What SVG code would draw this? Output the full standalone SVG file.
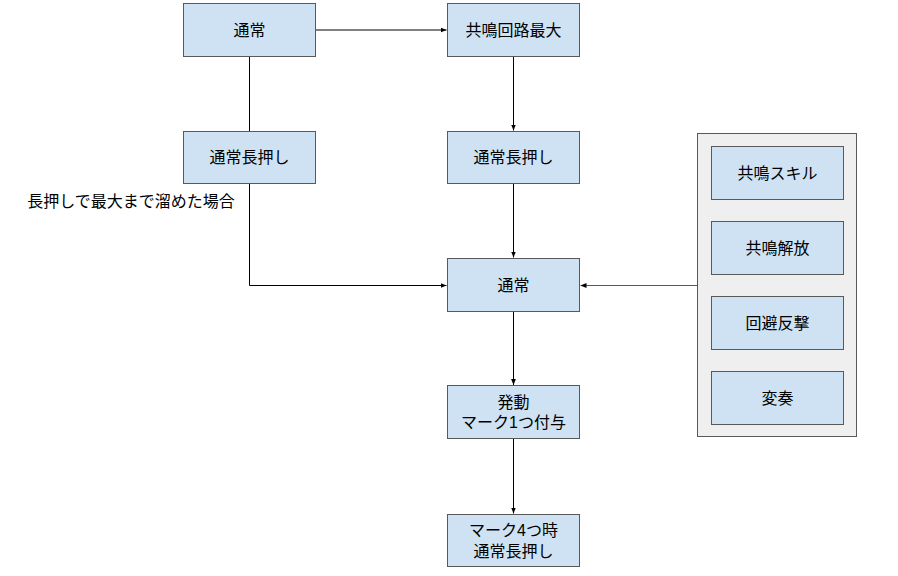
<svg xmlns="http://www.w3.org/2000/svg" width="898" height="576" viewBox="0 0 898 576">
<style>
.box{fill:#cfe2f3;stroke:#595959;stroke-width:1}
.panel{fill:#efefef;stroke:#595959;stroke-width:1}
.t{font-family:"Liberation Sans","Noto Sans CJK JP",sans-serif;font-size:16px;fill:#000;text-anchor:middle;dominant-baseline:central}
.c{fill:none;stroke:#000;stroke-width:1}
.g{fill:none;stroke:#595959;stroke-width:1}
</style>
<defs>
<marker id="a" viewBox="0 0 8 8" refX="8" refY="4" markerWidth="6" markerHeight="6" orient="auto" markerUnits="userSpaceOnUse">
<path d="M0,0.8 L8,4 L0,7.2 z" fill="#000"/>
</marker>
</defs>
<rect x="0" y="0" width="898" height="576" fill="#fff"/>
<g id="connectors">
<path class="c" d="M315.5,30 H446.5" marker-end="url(#a)"/>
<path class="c" d="M249.5,57 V131"/>
<path class="c" d="M249.5,183 V285.5 H446.5" marker-end="url(#a)"/>
<path class="c" d="M513.5,57 V130.5" marker-end="url(#a)"/>
<path class="c" d="M513.5,183 V257.5" marker-end="url(#a)"/>
<path class="c" d="M513.5,312 V385" marker-end="url(#a)"/>
<path class="c" d="M513.5,439 V513.5" marker-end="url(#a)"/>
<path class="g" d="M697,285.5 H580.5" marker-end="url(#a)"/>
<text class="t" x="131" y="201">長押しで最大まで溜めた場合</text>
</g>
<g id="n1"><rect class="box" x="183.5" y="3.5" width="132" height="53"/><text class="t" x="249.5" y="30">通常</text></g>
<g id="n2"><rect class="box" x="447.5" y="3.5" width="132" height="53"/><text class="t" x="513.5" y="30">共鳴回路最大</text></g>
<g id="n3"><rect class="box" x="183.5" y="131.5" width="132" height="52"/><text class="t" x="249.5" y="157.5">通常長押し</text></g>
<g id="n4"><rect class="box" x="447.5" y="131.5" width="132" height="52"/><text class="t" x="513.5" y="157.5">通常長押し</text></g>
<g id="n5"><rect class="box" x="447.5" y="258.5" width="132" height="53"/><text class="t" x="513.5" y="285">通常</text></g>
<g id="n6"><rect class="box" x="447.5" y="385.5" width="132" height="53"/><text class="t" x="513.5" y="402">発動</text><text class="t" x="513.5" y="422.5">マーク1つ付与</text></g>
<g id="n7"><rect class="box" x="447.5" y="514.5" width="132" height="52"/><text class="t" x="513.5" y="530.5">マーク4つ時</text><text class="t" x="513.5" y="551">通常長押し</text></g>
<g id="panel">
<rect class="panel" x="697.5" y="133.5" width="159" height="303"/>
<g id="s1"><rect class="box" x="711.5" y="146.5" width="132" height="53"/><text class="t" x="777.5" y="173">共鳴スキル</text></g>
<g id="s2"><rect class="box" x="711.5" y="221.5" width="132" height="53"/><text class="t" x="777.5" y="248">共鳴解放</text></g>
<g id="s3"><rect class="box" x="711.5" y="296.5" width="132" height="53"/><text class="t" x="777.5" y="323">回避反撃</text></g>
<g id="s4"><rect class="box" x="711.5" y="371.5" width="132" height="53"/><text class="t" x="777.5" y="398">変奏</text></g>
</g>
</svg>
